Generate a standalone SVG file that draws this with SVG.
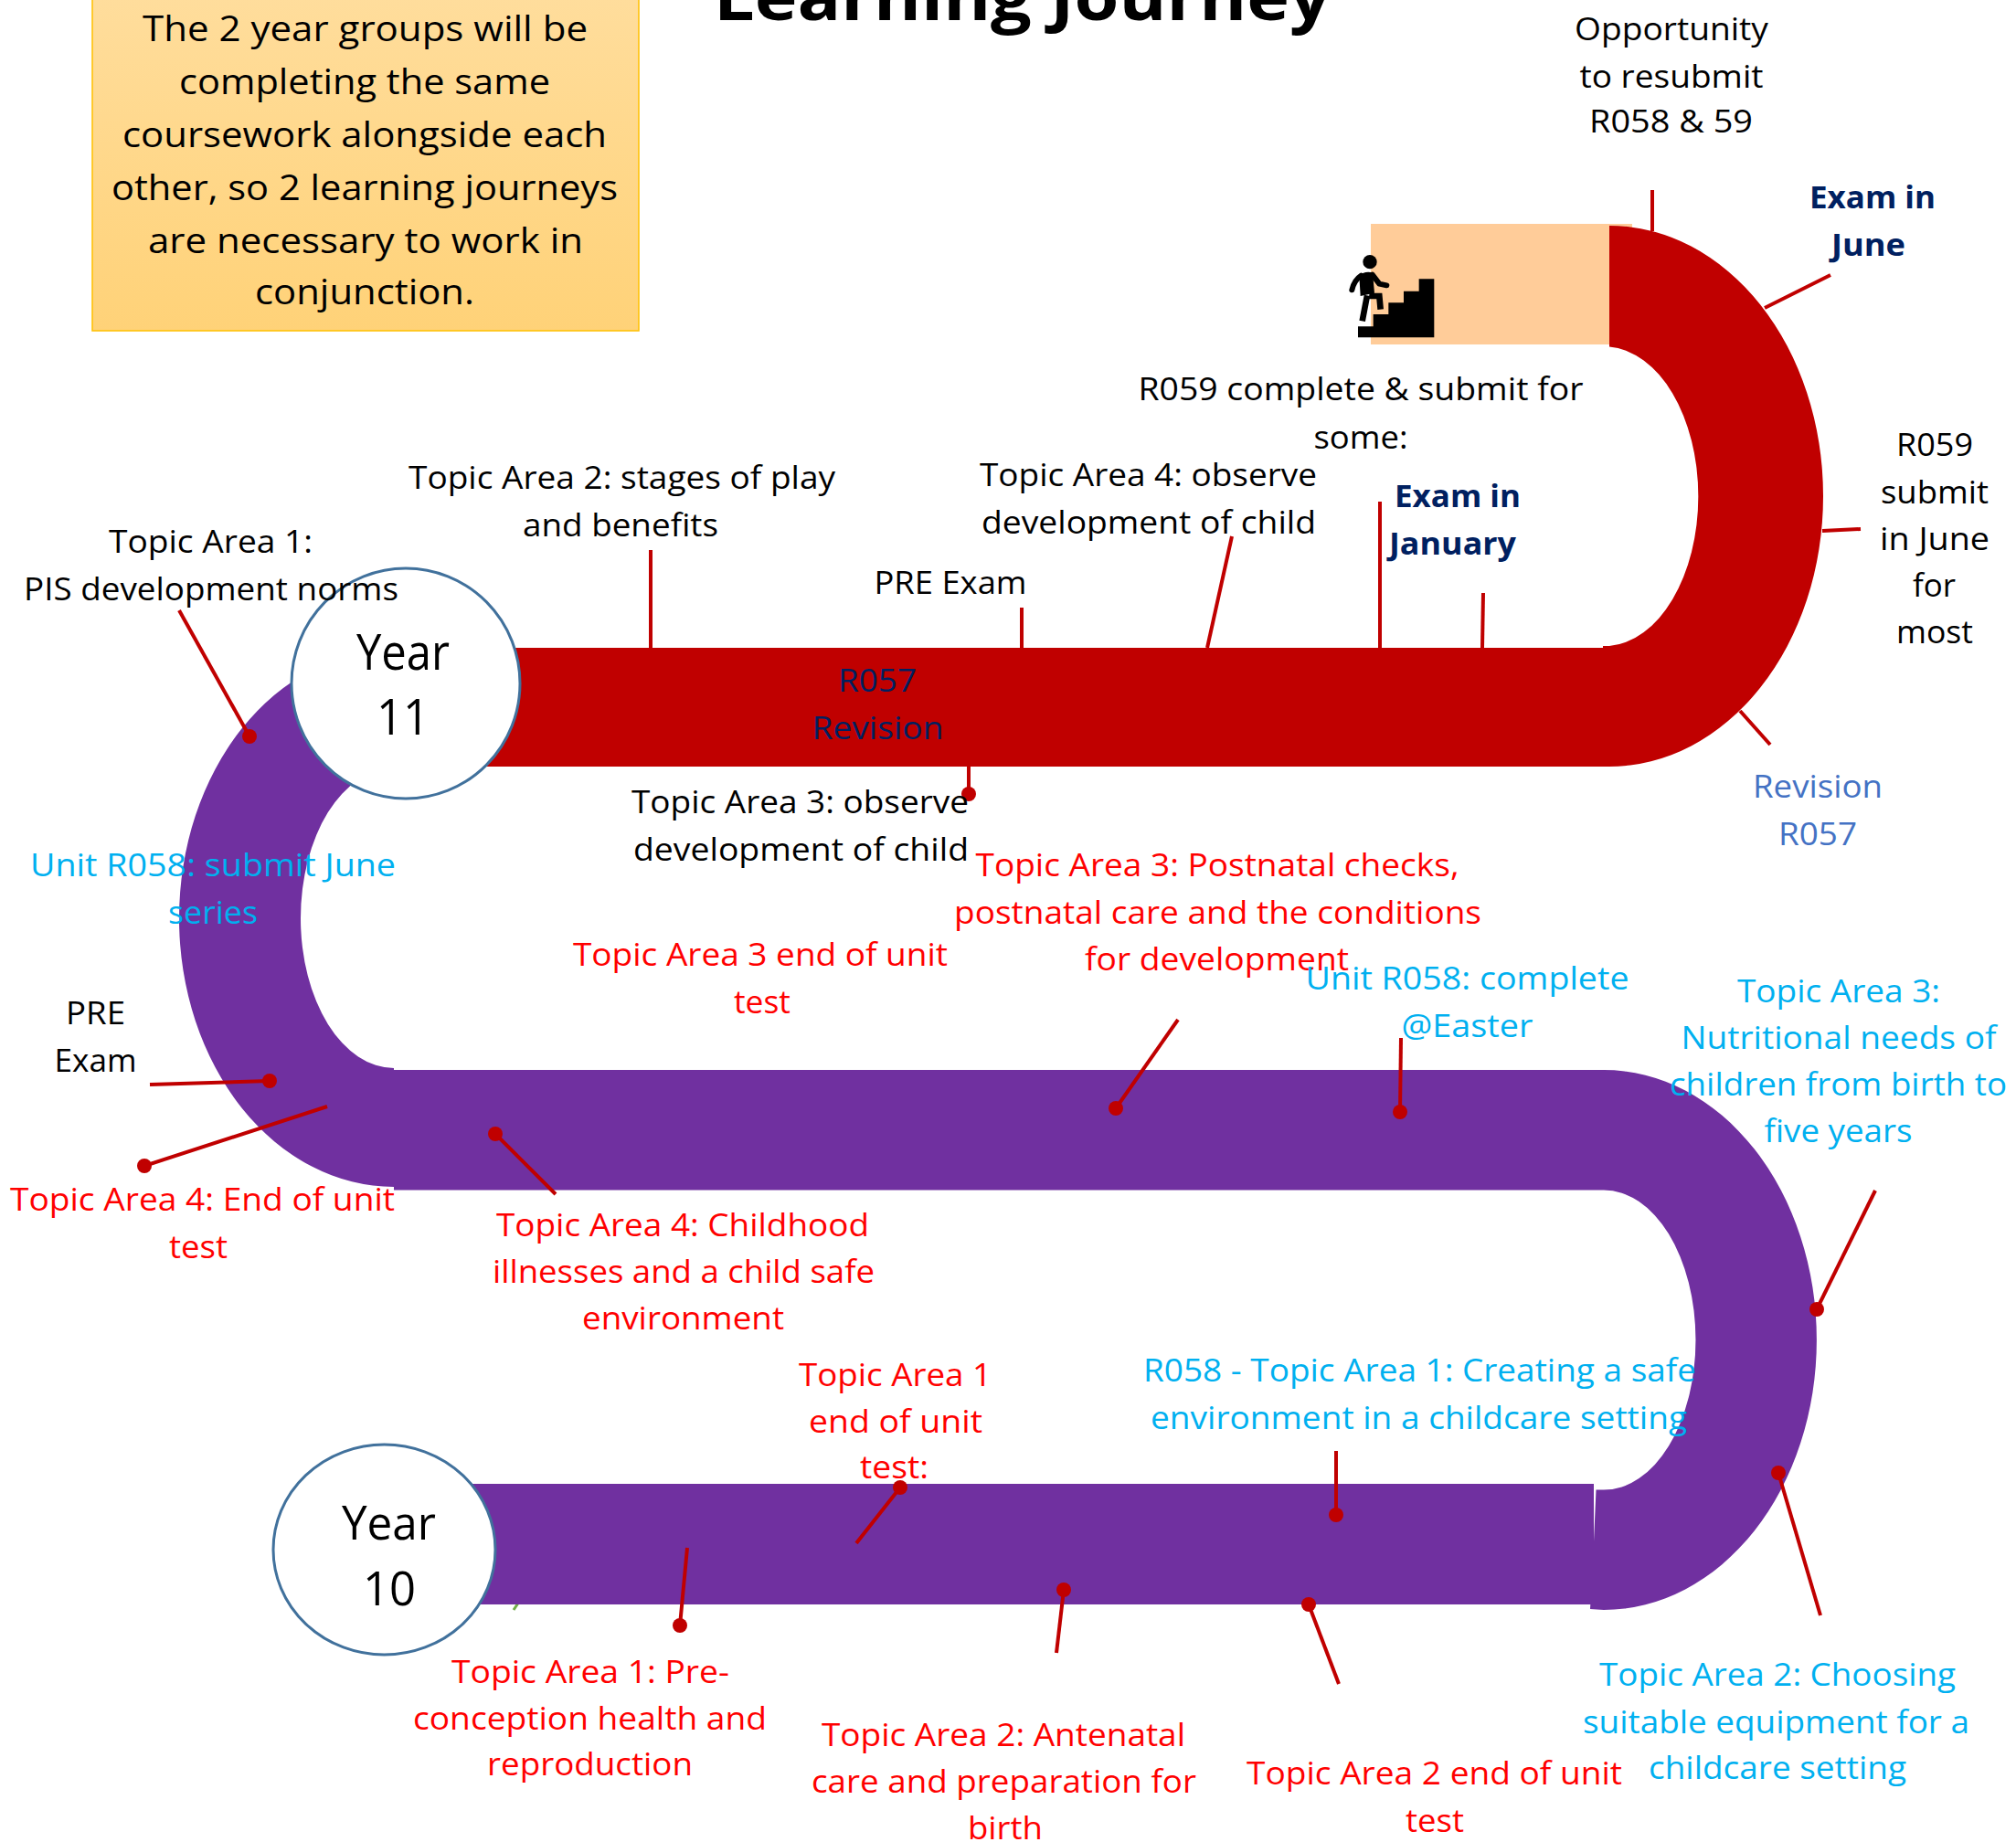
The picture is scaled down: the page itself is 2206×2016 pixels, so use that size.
<svg xmlns="http://www.w3.org/2000/svg" width="2206" height="2016" viewBox="0 0 2206 2016">
<style>
text{font-family:"Open Sans","Noto Sans","Liberation Sans",sans-serif;font-size:34px;text-anchor:middle}
.k{fill:#000}.r{fill:#FF0000}.c{fill:#00B0F0}.n{fill:#002060}.nb{fill:#002060;font-weight:700}.b{fill:#4472C4}
.box{font-size:38px;fill:#000}
.yr{font-size:54px;fill:#000}.yr2{font-size:52px;fill:#000}
.title{font-size:72px;font-weight:700;fill:#000}
.lead line{stroke:#C00000;stroke-width:4;fill:none}
.lead circle{fill:#C00000}
.yc{fill:#fff;stroke:#41719C;stroke-width:3}
</style>
<defs>
<linearGradient id="boxg" x1="0" y1="0" x2="0" y2="1"><stop offset="0" stop-color="#FFDD9C"/><stop offset="1" stop-color="#FFD278"/></linearGradient>
</defs>
<rect width="2206" height="2016" fill="#fff"/>
<g id="bands">
<rect x="1500" y="245" width="286" height="132" fill="#FFCC99"/>
<line x1="562" y1="1762" x2="570" y2="1750" stroke="#70AD47" stroke-width="3"/>
<path fill="#7030A0" d="M431,1299A235,294 0 0 1 431,711L431,841A102,164 0 0 0 431,1169L431,1171L1755,1171A233,295.5 0 0 1 1755,1762L1740,1761L1744,1687L1746.5,1630.6L1755,1630.6A100.5,164 0 0 0 1755,1302.5L431,1302.5Z"/>
<rect x="480" y="1624" width="1264" height="132" fill="#7030A0"/>
<path fill="#C00000" d="M1761,247A234,296 0 0 1 1761,839L480,839L480,709L1754,709L1754,707L1761,707A103,164 0 0 0 1761,379.5Z"/>
</g>
<g id="stairs-icon" transform="translate(1430,260) scale(.3333)">
<circle cx="207" cy="80" r="23" fill="#000"/>
<path fill="#000" d="M168,292H218V252H268V214H318V176H368V136H418V328H168Z"/>
<path fill="#000" d="M172,125Q190,108 216,115L222,182L176,192Z"/>
<path fill="none" stroke="#000" stroke-width="18" stroke-linecap="round" stroke-linejoin="round" d="M178,125Q155,140 148,172M215,122L238,152L262,157"/>
<path fill="none" stroke="#000" stroke-width="20" d="M198,190L182,274M205,192L238,192L242,236"/>
</g>
<g id="connectors" class="lead">
<line x1="1808" y1="208" x2="1808" y2="253"/>
<line x1="1931" y1="337" x2="2003" y2="301"/>
<line x1="1994" y1="581" x2="2036" y2="579"/>
<line x1="1904" y1="778" x2="1937" y2="815"/>
<line x1="1510" y1="549" x2="1510" y2="709"/>
<line x1="1623" y1="649" x2="1622" y2="709"/>
<line x1="1348" y1="587" x2="1321" y2="709"/>
<line x1="1118" y1="665" x2="1118" y2="709"/>
<line x1="712" y1="602" x2="712" y2="709"/>
<line x1="1060" y1="839" x2="1060" y2="869"/><circle cx="1060" cy="869" r="8"/>
<line x1="196" y1="668" x2="273" y2="806"/><circle cx="273" cy="806" r="8"/>
<line x1="164" y1="1187" x2="295" y2="1183"/><circle cx="295" cy="1183" r="8"/>
<line x1="358" y1="1211" x2="158" y2="1276"/><circle cx="158" cy="1276" r="8"/>
<line x1="542" y1="1241" x2="608" y2="1307"/><circle cx="542" cy="1241" r="8"/>
<line x1="1289" y1="1116" x2="1221" y2="1213"/><circle cx="1221" cy="1213" r="8"/>
<line x1="1533" y1="1136" x2="1532" y2="1217"/><circle cx="1532" cy="1217" r="8"/>
<line x1="2052" y1="1303" x2="1988" y2="1433"/><circle cx="1988" cy="1433" r="8"/>
<line x1="1946" y1="1612" x2="1992" y2="1768"/><circle cx="1946" cy="1612" r="8"/>
<line x1="1462" y1="1588" x2="1462" y2="1658"/><circle cx="1462" cy="1658" r="8"/>
<line x1="1432" y1="1756" x2="1465" y2="1843"/><circle cx="1432" cy="1756" r="8"/>
<line x1="1164" y1="1740" x2="1156" y2="1809"/><circle cx="1164" cy="1740" r="8"/>
<line x1="985" y1="1628" x2="937" y2="1689"/><circle cx="985" cy="1628" r="8"/>
<line x1="752" y1="1694" x2="744" y2="1779"/><circle cx="744" cy="1779" r="8"/>
</g>
<g id="year11"><ellipse class="yc" cx="444" cy="748" rx="125" ry="126"/>
<text class="yr" x="441" y="733" textLength="102" lengthAdjust="spacingAndGlyphs">Year</text>
<text class="yr" x="441" y="804" textLength="58" lengthAdjust="spacingAndGlyphs">11</text></g>
<g id="year10"><ellipse class="yc" cx="420.5" cy="1696" rx="121.5" ry="115"/>
<text class="yr2" x="425.5" y="1685" textLength="103" lengthAdjust="spacingAndGlyphs">Year</text>
<text class="yr2" x="426" y="1757" textLength="58" lengthAdjust="spacingAndGlyphs">10</text></g>
<g id="note"><rect x="101" y="-4" width="598" height="366" fill="url(#boxg)" stroke="#FFC000" stroke-width="1.5"/>
<text class="box" x="399.5" y="45" textLength="487" lengthAdjust="spacingAndGlyphs">The 2 year groups will be</text>
<text class="box" x="399" y="103" textLength="406" lengthAdjust="spacingAndGlyphs">completing the same</text>
<text class="box" x="399" y="161" textLength="530" lengthAdjust="spacingAndGlyphs">coursework alongside each</text>
<text class="box" x="399" y="219" textLength="554" lengthAdjust="spacingAndGlyphs">other, so 2 learning journeys</text>
<text class="box" x="400" y="277" textLength="476" lengthAdjust="spacingAndGlyphs">are necessary to work in</text>
<text class="box" x="399" y="333" textLength="240" lengthAdjust="spacingAndGlyphs">conjunction.</text></g>
<g id="title"><text class="title" x="1118.5" y="22" textLength="675" lengthAdjust="spacingAndGlyphs">Learning Journey</text></g>
<g id="label-opportunity">
<text class="k" x="1829" y="44" textLength="212" lengthAdjust="spacingAndGlyphs">Opportunity</text>
<text class="k" x="1829" y="96" textLength="201" lengthAdjust="spacingAndGlyphs">to resubmit</text>
<text class="k" x="1828.5" y="145" textLength="179" lengthAdjust="spacingAndGlyphs">R058 &amp; 59</text></g>
<g id="label-exam-june">
<text class="nb" x="2049" y="228" textLength="138" lengthAdjust="spacingAndGlyphs">Exam in</text>
<text class="nb" x="2044.5" y="280" textLength="81" lengthAdjust="spacingAndGlyphs">June</text></g>
<g id="label-r059-june">
<text class="k" x="2117" y="499" textLength="84" lengthAdjust="spacingAndGlyphs">R059</text>
<text class="k" x="2117" y="551" textLength="118" lengthAdjust="spacingAndGlyphs">submit</text>
<text class="k" x="2117" y="602" textLength="120" lengthAdjust="spacingAndGlyphs">in June</text>
<text class="k" x="2116.5" y="653" textLength="47" lengthAdjust="spacingAndGlyphs">for</text>
<text class="k" x="2117" y="704" textLength="84" lengthAdjust="spacingAndGlyphs">most</text></g>
<g id="label-revision">
<text class="b" x="1989" y="873" textLength="142" lengthAdjust="spacingAndGlyphs">Revision</text>
<text class="b" x="1989" y="925" textLength="86" lengthAdjust="spacingAndGlyphs">R057</text></g>
<g id="label-r059-some">
<text class="k" x="1489" y="438" textLength="487" lengthAdjust="spacingAndGlyphs">R059 complete &amp; submit for</text>
<text class="k" x="1489" y="491" textLength="103" lengthAdjust="spacingAndGlyphs">some:</text></g>
<g id="label-ta4-observe">
<text class="k" x="1256.5" y="532" textLength="369" lengthAdjust="spacingAndGlyphs">Topic Area 4: observe</text>
<text class="k" x="1257" y="584" textLength="366" lengthAdjust="spacingAndGlyphs">development of child</text></g>
<g id="label-exam-jan">
<text class="nb" x="1595" y="555" textLength="138" lengthAdjust="spacingAndGlyphs">Exam in</text>
<text class="nb" x="1589.5" y="607" textLength="139" lengthAdjust="spacingAndGlyphs">January</text></g>
<g id="label-ta2-play">
<text class="k" x="680.5" y="535" textLength="467" lengthAdjust="spacingAndGlyphs">Topic Area 2: stages of play</text>
<text class="k" x="679" y="587" textLength="214" lengthAdjust="spacingAndGlyphs">and benefits</text></g>
<g id="label-pre-exam-top"><text class="k" x="1040" y="650" textLength="167" lengthAdjust="spacingAndGlyphs">PRE Exam</text></g>
<g id="label-r057-revision">
<text class="n" x="960" y="757" textLength="86" lengthAdjust="spacingAndGlyphs">R057</text>
<text class="n" x="960.5" y="809" textLength="144" lengthAdjust="spacingAndGlyphs">Revision</text></g>
<g id="label-ta3-observe">
<text class="k" x="875.5" y="890" textLength="369" lengthAdjust="spacingAndGlyphs">Topic Area 3: observe</text>
<text class="k" x="876.5" y="942" textLength="367" lengthAdjust="spacingAndGlyphs">development of child</text></g>
<g id="label-ta3-postnatal">
<text class="r" x="1332" y="959" textLength="529" lengthAdjust="spacingAndGlyphs">Topic Area 3: Postnatal checks,</text>
<text class="r" x="1332.5" y="1011" textLength="577" lengthAdjust="spacingAndGlyphs">postnatal care and the conditions</text>
<text class="r" x="1331.5" y="1062" textLength="289" lengthAdjust="spacingAndGlyphs">for development</text></g>
<g id="label-ta1-pis">
<text class="k" x="230.5" y="605" textLength="223" lengthAdjust="spacingAndGlyphs">Topic Area 1:</text>
<text class="k" x="231" y="657" textLength="410" lengthAdjust="spacingAndGlyphs">PIS development norms</text></g>
<g id="label-r058-submit">
<text class="c" x="233" y="959" textLength="400" lengthAdjust="spacingAndGlyphs">Unit R058: submit June</text>
<text class="c" x="233" y="1011" textLength="98" lengthAdjust="spacingAndGlyphs">series</text></g>
<g id="label-pre-exam-left">
<text class="k" x="104.5" y="1121" textLength="65" lengthAdjust="spacingAndGlyphs">PRE</text>
<text class="k" x="104.5" y="1173" textLength="90" lengthAdjust="spacingAndGlyphs">Exam</text></g>
<g id="label-ta4-end">
<text class="r" x="221.5" y="1325" textLength="421" lengthAdjust="spacingAndGlyphs">Topic Area 4: End of unit</text>
<text class="r" x="217" y="1377" textLength="64" lengthAdjust="spacingAndGlyphs">test</text></g>
<g id="label-ta3-end">
<text class="r" x="832" y="1057" textLength="410" lengthAdjust="spacingAndGlyphs">Topic Area 3 end of unit</text>
<text class="r" x="834" y="1109" textLength="62" lengthAdjust="spacingAndGlyphs">test</text></g>
<g id="label-r058-easter">
<text class="c" x="1605.5" y="1083" textLength="354" lengthAdjust="spacingAndGlyphs">Unit R058: complete</text>
<text class="c" x="1605.5" y="1135" textLength="144" lengthAdjust="spacingAndGlyphs">@Easter</text></g>
<g id="label-ta3-nutrition">
<text class="c" x="2012" y="1097" textLength="222" lengthAdjust="spacingAndGlyphs">Topic Area 3:</text>
<text class="c" x="2012" y="1148" textLength="345" lengthAdjust="spacingAndGlyphs">Nutritional needs of</text>
<text class="c" x="2011.5" y="1199" textLength="369" lengthAdjust="spacingAndGlyphs">children from birth to</text>
<text class="c" x="2011.5" y="1250" textLength="162" lengthAdjust="spacingAndGlyphs">five years</text></g>
<g id="label-ta1-safe">
<text class="c" x="1553.5" y="1512" textLength="605" lengthAdjust="spacingAndGlyphs">R058 - Topic Area 1: Creating a safe</text>
<text class="c" x="1552.5" y="1564" textLength="587" lengthAdjust="spacingAndGlyphs">environment in a childcare setting</text></g>
<g id="label-ta4-childhood">
<text class="r" x="747" y="1353" textLength="408" lengthAdjust="spacingAndGlyphs">Topic Area 4: Childhood</text>
<text class="r" x="748" y="1404" textLength="418" lengthAdjust="spacingAndGlyphs">illnesses and a child safe</text>
<text class="r" x="747.5" y="1455" textLength="221" lengthAdjust="spacingAndGlyphs">environment</text></g>
<g id="label-ta1-end">
<text class="r" x="979.5" y="1517" textLength="211" lengthAdjust="spacingAndGlyphs">Topic Area 1</text>
<text class="r" x="980" y="1568" textLength="190" lengthAdjust="spacingAndGlyphs">end of unit</text>
<text class="r" x="978.5" y="1618" textLength="75" lengthAdjust="spacingAndGlyphs">test:</text></g>
<g id="label-ta1-pre">
<text class="r" x="646" y="1842" textLength="304" lengthAdjust="spacingAndGlyphs">Topic Area 1: Pre-</text>
<text class="r" x="645.5" y="1893" textLength="387" lengthAdjust="spacingAndGlyphs">conception health and</text>
<text class="r" x="645.5" y="1943" textLength="225" lengthAdjust="spacingAndGlyphs">reproduction</text></g>
<g id="label-ta2-antenatal">
<text class="r" x="1098" y="1911" textLength="398" lengthAdjust="spacingAndGlyphs">Topic Area 2: Antenatal</text>
<text class="r" x="1098.5" y="1962" textLength="421" lengthAdjust="spacingAndGlyphs">care and preparation for</text>
<text class="r" x="1100" y="2013" textLength="82" lengthAdjust="spacingAndGlyphs">birth</text></g>
<g id="label-ta2-end">
<text class="r" x="1569.5" y="1953" textLength="411" lengthAdjust="spacingAndGlyphs">Topic Area 2 end of unit</text>
<text class="r" x="1570" y="2005" textLength="64" lengthAdjust="spacingAndGlyphs">test</text></g>
<g id="label-ta2-choosing">
<text class="c" x="1945" y="1845" textLength="390" lengthAdjust="spacingAndGlyphs">Topic Area 2: Choosing</text>
<text class="c" x="1943.5" y="1897" textLength="423" lengthAdjust="spacingAndGlyphs">suitable equipment for a</text>
<text class="c" x="1945" y="1947" textLength="282" lengthAdjust="spacingAndGlyphs">childcare setting</text></g>
</svg>
